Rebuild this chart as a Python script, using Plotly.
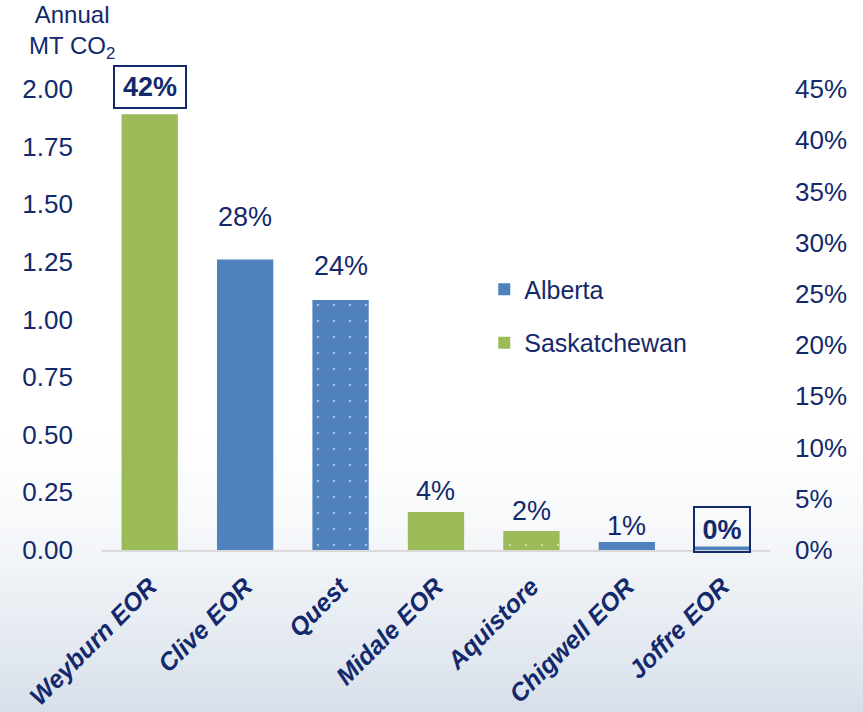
import plotly.graph_objects as go

# ---- data ----
categories = ["Weyburn EOR", "Clive EOR", "Quest", "Midale EOR", "Aquistore", "Chigwell EOR", "Joffre EOR"]
annual_mt_co2 = [1.89, 1.26, 1.085, 0.165, 0.082, 0.035, 0.015]
share_labels = ["42%", "28%", "24%", "4%", "2%", "1%", "0%"]
province = ["Saskatchewan", "Alberta", "Alberta", "Saskatchewan", "Saskatchewan", "Alberta", "Alberta"]
dotted = [False, False, True, False, True, False, False]
boxed = [True, False, False, False, False, False, True]
left_ticks = [0, 0.25, 0.5, 0.75, 1.0, 1.25, 1.5, 1.75, 2.0]
right_ticks = [0, 0.05, 0.10, 0.15, 0.20, 0.25, 0.30, 0.35, 0.40, 0.45]

# ---- style ----
NAVY = "#13296b"
COLORS = {"Alberta": "#4f81bd", "Saskatchewan": "#9bbb59"}
FONT = "Liberation Sans, Arial"
label_shift = [27, 43, 34, 21, 20, 16, 17]

fig = go.Figure()

for prov in ["Alberta", "Saskatchewan"]:
    idx = [i for i, p in enumerate(province) if p == prov]
    fig.add_trace(go.Bar(
        x=[categories[i] for i in idx],
        y=[annual_mt_co2[i] for i in idx],
        name=prov,
        legendgroup=prov,
        width=0.59,
        marker=dict(
            color=COLORS[prov],
            line=dict(width=0),
            pattern=dict(
                shape=["." if dotted[i] else "" for i in idx],
                fgcolor="white",
                fillmode="overlay",
                size=16,
                solidity=0.02,
            ),
        ),
        hoverinfo="skip",
    ))

# invisible trace to activate the right-hand percent axis
fig.add_trace(go.Scatter(x=categories, y=[0] * len(categories), yaxis="y2",
                         showlegend=False, hoverinfo="skip", mode="markers",
                         marker=dict(opacity=0, size=1)))

for i, c in enumerate(categories):
    fig.add_annotation(
        x=c, y=annual_mt_co2[i], xref="x", yref="y",
        text=(f"<b>{share_labels[i]}</b>" if boxed[i] else share_labels[i]),
        showarrow=False, yanchor="middle", yshift=label_shift[i],
        font=dict(family=FONT, size=27, color=NAVY),
        bordercolor=NAVY if boxed[i] else "rgba(0,0,0,0)",
        borderwidth=2 if boxed[i] else 0,
        borderpad=3 if boxed[i] else 0,
        width=(64 if i == 0 else 48) if boxed[i] else None,
        height=(34 if i == 0 else 37) if boxed[i] else None,
    )

fig.add_annotation(
    text="Annual<br>MT CO<sub>2</sub>", xref="paper", yref="paper",
    x=0.016, y=1.0, xanchor="center", yanchor="bottom", yshift=24,
    showarrow=False, align="center",
    font=dict(family=FONT, size=24, color=NAVY),
)

# soft bluish gradient in the lower part of the page (decoration)
shapes = []
H = 712
top0 = 420
steps = 48
for k in range(steps):
    y0 = top0 + (H - top0) * k / steps
    y1 = top0 + (H - top0) * (k + 1) / steps
    t = (k + 0.5) / steps
    a = 0.65 * t ** 1.5
    shapes.append(dict(type="rect", xref="paper", yref="paper", layer="below",
                       x0=-0.2, x1=1.2,
                       y0=1 - (y1 - 89) / 461, y1=1 - (y0 - 89) / 461,
                       fillcolor=f"rgba(192,205,223,{a:.3f})", line=dict(width=0)))

fig.update_layout(
    width=863, height=712,
    margin=dict(l=60, r=60, t=89, b=162, autoexpand=False),
    paper_bgcolor="white", plot_bgcolor="rgba(0,0,0,0)",
    barmode="overlay",
    showlegend=True,
    legend=dict(x=0.571, y=0.615, xanchor="left", yanchor="top",
                font=dict(family=FONT, size=25, color=NAVY),
                traceorder="grouped", tracegroupgap=18,
                bgcolor="rgba(0,0,0,0)"),
    xaxis=dict(domain=[0.0565, 0.9556], categoryorder="array", categoryarray=categories,
               tickangle=-45, showgrid=False, zeroline=False, automargin=False,
               showline=True, linecolor="#d9d9d9", linewidth=2, ticks="",
               ticklabelstandoff=10,
               tickfont=dict(family=FONT, size=25, color=NAVY, weight="bold", style="italic")),
    yaxis=dict(range=[0, 2.0], tickvals=left_ticks, tickformat=".2f", automargin=False,
               showgrid=False, zeroline=False, showline=False, ticks="",
               ticklabelstandoff=28,
               tickfont=dict(family=FONT, size=26, color=NAVY)),
    yaxis2=dict(range=[0, 0.45], tickvals=right_ticks, tickformat=".0%", automargin=False,
                overlaying="y", side="right", anchor="x",
                showgrid=False, zeroline=False, showline=False, ticks="",
                ticklabelstandoff=24,
                tickfont=dict(family=FONT, size=26, color=NAVY)),
    shapes=shapes,
)

fig.write_html("out.html", config={"displayModeBar": False},
               post_script="document.body.style.margin='0';document.body.style.padding='0';")
